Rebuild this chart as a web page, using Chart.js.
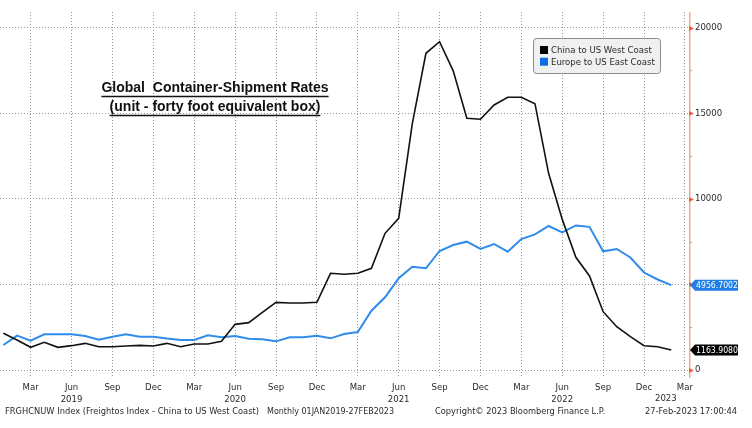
<!DOCTYPE html>
<html><head><meta charset="utf-8">
<script src="https://cdn.jsdelivr.net/npm/chart.js@4.4.0/dist/chart.umd.min.js"></script>
<style>html,body{margin:0;padding:0;background:#fff;overflow:hidden}canvas{display:block}</style>
</head><body>
<canvas id="c" width="752" height="428" style="width:752px;height:428px"></canvas>
<script>
// ---- data ----
const months = [
 'Jan 2019','Feb 2019','Mar 2019','Apr 2019','May 2019','Jun 2019','Jul 2019','Aug 2019','Sep 2019','Oct 2019','Nov 2019','Dec 2019',
 'Jan 2020','Feb 2020','Mar 2020','Apr 2020','May 2020','Jun 2020','Jul 2020','Aug 2020','Sep 2020','Oct 2020','Nov 2020','Dec 2020',
 'Jan 2021','Feb 2021','Mar 2021','Apr 2021','May 2021','Jun 2021','Jul 2021','Aug 2021','Sep 2021','Oct 2021','Nov 2021','Dec 2021',
 'Jan 2022','Feb 2022','Mar 2022','Apr 2022','May 2022','Jun 2022','Jul 2022','Aug 2022','Sep 2022','Oct 2022','Nov 2022','Dec 2022',
 'Jan 2023','Feb 2023'
];
const chinaToUSWestCoast = [
 2144,1753,1325,1617,1325,1422,1558,1363,1363,1402,1441,1402,
 1558,1363,1519,1519,1675,2668,2766,3369,3954,3915,3915,3954,
 5650,5592,5650,5942,7987,8863,14400,18504,19183,17480,14706,14648,
 15484,15932,15932,15560,11492,8800,6585,5492,3407,2530,1946,1420,
 1363,1163.908
];
const europeToUSEastCoast = [
 1461,2006,1714,2084,2084,2084,1987,1772,1948,2084,1948,1948,
 1840,1753,1753,2026,1909,1987,1831,1792,1675,1909,1909,2006,
 1850,2103,2220,3467,4246,5358,6036,5942,6953,7303,7498,7070,
 7362,6914,7654,7927,8414,8035,8444,8365,6934,7070,6573,5696,
 5288,4956.7002
];
const seriesNames = ['China to US West Coast','Europe to US East Coast'];
const seriesColors = ['#111111','#2f8ceb'];
const tagColors = ['#000000','#1f7fe6'];
const lastValueLabels = ['1163.9080','4956.7002'];
const monthNames = ['Jan','Feb','Mar','Apr','May','Jun','Jul','Aug','Sep','Oct','Nov','Dec'];
const xTickMonthIndex = [2,5,8,11,14,17,20,23,26,29,32,35,38,41,44,47,50];
const yTickValues = [0,2500,5000,7500,10000,12500,15000,17500,20000];
const firstYear = 2019;
const titleLines = ['Global  Container-Shipment Rates','(unit - forty foot equivalent box)'];
const footerTexts = ['FRGHCNUW Index (Freightos Index - China to US West Coast)','Monthly 01JAN2019-27FEB2023','Copyright\u00a9 2023 Bloomberg Finance L.P.','27-Feb-2023 17:00:44'];

const FONT = '"DejaVu Sans Condensed","DejaVu Sans",sans-serif';
const TXT = '#2a2a2a';

const deco = {
  id: 'deco',
  afterDraw(chart) {
    const {ctx, chartArea: a, scales: {x, y}} = chart;
    ctx.save();
    // right axis line
    ctx.strokeStyle = '#f7a882'; ctx.lineWidth = 1.5;
    ctx.beginPath(); ctx.moveTo(a.right + 0.75, a.top); ctx.lineTo(a.right + 0.75, a.bottom); ctx.stroke();
    // tick marks
    yTickValues.forEach(v => {
      const py = Math.round(y.getPixelForValue(v));
      if (v % 5000 === 0) {
        ctx.fillStyle = '#f0602e';
        ctx.beginPath(); ctx.moveTo(a.right, py - 2); ctx.lineTo(a.right + 5, py + 0.5); ctx.lineTo(a.right, py + 3); ctx.closePath(); ctx.fill();
      } else {
        ctx.strokeStyle = '#aaaaaa'; ctx.lineWidth = 1;
        ctx.beginPath(); ctx.moveTo(a.right + 1, py + 0.5); ctx.lineTo(a.right + 3, py + 0.5); ctx.stroke();
      }
    });
    // last value tags
    chart.data.datasets.forEach((ds, i) => {
      const last = ds.data[ds.data.length - 1];
      const py = y.getPixelForValue(last.y);
      const l = a.right + 1, h = 5.5;
      ctx.fillStyle = tagColors[i];
      ctx.beginPath();
      ctx.moveTo(l, py); ctx.lineTo(l + 5, py - h); ctx.lineTo(l + 48, py - h);
      ctx.lineTo(l + 48, py + h); ctx.lineTo(l + 5, py + h); ctx.closePath(); ctx.fill();
      ctx.fillStyle = '#ffffff'; ctx.font = '9px ' + FONT; ctx.textBaseline = 'middle'; ctx.textAlign = 'left';
      ctx.fillText(lastValueLabels[i], l + 6, py + 0.5, 42);
    });
    // 2023 year label
    ctx.fillStyle = TXT; ctx.font = '9.5px ' + FONT; ctx.textAlign = 'center'; ctx.textBaseline = 'middle';
    ctx.fillText(String(firstYear + 4), x.getPixelForValue(48.6), 399);
    // footer
    ctx.textAlign = 'left';
    const fx = [5, 267, 435, 645], fw = [254, 127, 170, 92];
    footerTexts.forEach((t, i) => ctx.fillText(t, fx[i], 411.5, fw[i]));
    // legend
    ctx.fillStyle = '#f0f0f0'; ctx.strokeStyle = '#8c8c8c'; ctx.lineWidth = 1;
    ctx.beginPath(); ctx.roundRect(533.5, 38.5, 127, 35, 3); ctx.fill(); ctx.stroke();
    seriesNames.forEach((n, i) => {
      const cy = 50.5 + i * 11.7;
      ctx.fillStyle = i === 0 ? '#000' : '#0a6fe6';
      ctx.fillRect(540, cy - 4.5, 8, 8);
      ctx.fillStyle = TXT; ctx.textBaseline = 'middle';
      ctx.fillText(n, 551, cy, 106);
    });
    // title
    ctx.fillStyle = '#111'; ctx.strokeStyle = '#111'; ctx.lineWidth = 1.3;
    ctx.font = 'bold 14px "Liberation Sans", Arial, sans-serif'; ctx.textAlign = 'center';
    titleLines.forEach((t, i) => {
      const cy = 88 + i * 19;
      ctx.fillText(t, 215, cy);
      const w = ctx.measureText(t).width;
      ctx.beginPath(); ctx.moveTo(215 - w / 2, cy + 8.5); ctx.lineTo(215 + w / 2, cy + 8.5); ctx.stroke();
    });
    ctx.restore();
  }
};

const mk = arr => arr.map((v, i) => ({x: i, y: v}));

new Chart(document.getElementById('c'), {
  type: 'line',
  data: {
    labels: months,
    datasets: [
      {label: seriesNames[0], data: mk(chinaToUSWestCoast), borderColor: seriesColors[0], borderWidth: 1.6, pointRadius: 0, tension: 0, fill: false},
      {label: seriesNames[1], data: mk(europeToUSEastCoast), borderColor: seriesColors[1], borderWidth: 2, pointRadius: 0, tension: 0, fill: false}
    ]
  },
  options: {
    responsive: false, animation: false, devicePixelRatio: 1,
    layout: {padding: {top: 12, left: 0, right: 0, bottom: 0}},
    plugins: {legend: {display: false}, tooltip: {enabled: false}},
    scales: {
      x: {
        type: 'linear', position: 'bottom', min: -0.25, max: 50.3,
        afterBuildTicks: s => { s.ticks = xTickMonthIndex.map(v => ({value: v})); },
        afterFit: s => { s.height = 50; },
        grid: {color: '#9a9a9a', lineWidth: 1, drawTicks: false},
        border: {display: false, dash: [1, 2]},
        ticks: {
          autoSkip: false, maxRotation: 0, padding: 4, color: TXT,
          font: {family: FONT, size: 9.5, lineHeight: 1.25},
          callback: v => {
            const m = monthNames[v % 12];
            if (m === 'Jun') return [m, String(firstYear + Math.floor(v / 12))];
            return m;
          }
        }
      },
      y: {
        type: 'linear', position: 'right', min: -467, max: 20917,
        afterBuildTicks: s => { s.ticks = yTickValues.map(v => ({value: v})); },
        afterFit: s => { s.width = 63; },
        grid: {color: c => (c.tick && c.tick.value % 5000 === 0) ? '#9a9a9a' : 'rgba(0,0,0,0)', lineWidth: 1, drawTicks: false},
        border: {display: false, dash: [1, 2]},
        ticks: {
          padding: 6, color: TXT, font: {family: FONT, size: 9.5},
          callback: v => (v % 5000 === 0 ? String(v) : '')
        }
      }
    }
  },
  plugins: [deco]
});
</script>
</body></html>
